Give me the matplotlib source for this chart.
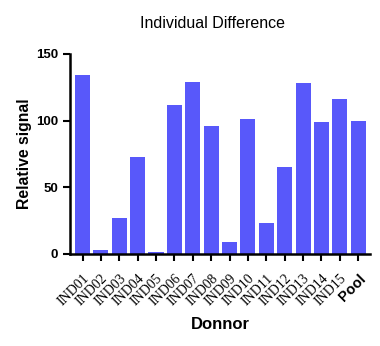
import matplotlib
matplotlib.use("Agg")
import matplotlib.pyplot as plt
import numpy as np

donors = ["IND01", "IND02", "IND03", "IND04", "IND05", "IND06", "IND07", "IND08",
          "IND09", "IND10", "IND11", "IND12", "IND13", "IND14", "IND15", "Pool"]
signal = [134, 3, 27, 73, 1.5, 112, 129, 96, 9, 101, 23, 65, 128, 99, 116, 100]

plt.rcParams['font.family'] = ['Liberation Sans', 'DejaVu Sans']

fig = plt.figure(figsize=(3.8, 3.46), dpi=100)
ax = fig.add_axes([70/380, 92/346, 300/380, 200/346])

x = np.arange(len(donors))
ax.bar(x, signal, width=0.82, color='#5858FA', zorder=2)

ax.set_xlim(-0.68, len(donors) - 1 + 0.64)
ax.set_ylim(0, 150)
ax.set_yticks([0, 50, 100, 150])

for s in ['top', 'right']:
    ax.spines[s].set_visible(False)
for s in ['left', 'bottom']:
    ax.spines[s].set_linewidth(1.8)

ax.tick_params(axis='both', direction='out', length=5, width=1.5)
ax.tick_params(axis='x', pad=8)
for lab in ax.get_yticklabels():
    lab.set_fontweight('bold')
    lab.set_fontsize(9.5)

ax.set_xticks(x)
ax.set_xticklabels(donors, rotation=45, ha='right', rotation_mode='anchor')
for lab in ax.get_xticklabels():
    if lab.get_text() == "Pool":
        lab.set_fontweight('bold')
        lab.set_fontsize(10.5)
    else:
        lab.set_family('Liberation Serif')
        lab.set_fontsize(10)

ax.set_ylabel("Relative signal", fontsize=11.3, fontweight='bold', labelpad=3)
ax.set_xlabel("Donnor", fontsize=12, fontweight='bold', labelpad=6)
fig.text(213/380, 1 - 28/346, "Individual Difference", fontsize=11.5,
         ha='center', va='baseline')

fig.savefig("out.png", dpi=100)
